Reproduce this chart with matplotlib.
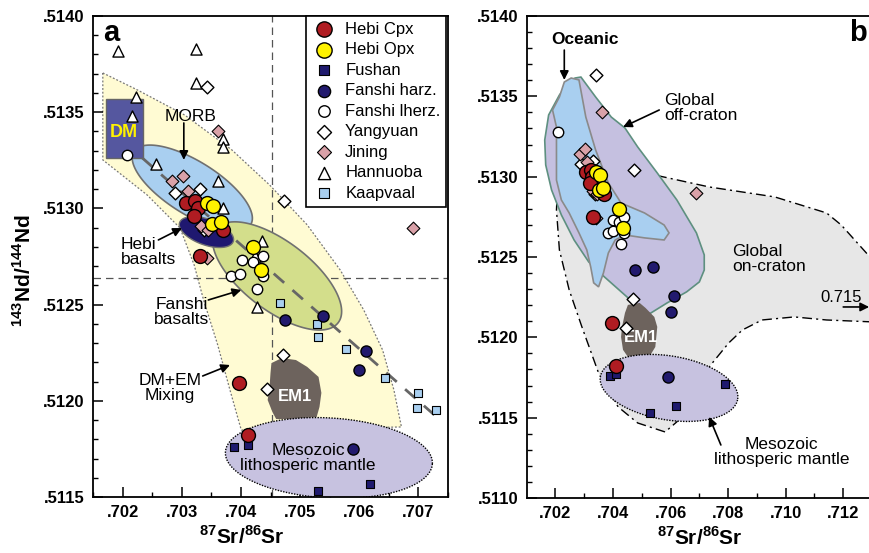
import numpy as np
import matplotlib
matplotlib.use("Agg")
import matplotlib.pyplot as plt
from matplotlib.patches import Polygon, Rectangle

plt.rcParams['font.family'] = ['Liberation Sans', 'DejaVu Sans']
plt.rcParams['mathtext.fontset'] = 'custom'
plt.rcParams['mathtext.rm'] = 'Liberation Sans'
plt.rcParams['mathtext.bf'] = 'Liberation Sans:bold'

# ---------------- sample data (87Sr/86Sr , 143Nd/144Nd) ----------------
hebi_cpx_sr = [0.70307, 0.70323, 0.70327, 0.70321, 0.70370, 0.70331, 0.70397, 0.70412]
hebi_cpx_nd = [0.51303, 0.51304, 0.51300, 0.51296, 0.51289, 0.51275, 0.51209, 0.51182]

hebi_opx_sr = [0.70342, 0.70353, 0.70351, 0.70366, 0.70420, 0.70434]
hebi_opx_nd = [0.51303, 0.51301, 0.51292, 0.51293, 0.51280, 0.51268]

fushan_sr = [0.70388, 0.70412, 0.70530, 0.70619, 0.70789]
fushan_nd = [0.51176, 0.51177, 0.51153, 0.51157, 0.51171]

harz_sr = [0.70475, 0.70539, 0.70611, 0.70600, 0.70590]
harz_nd = [0.51242, 0.51244, 0.51226, 0.51216, 0.51175]

lherz_sr = [0.70208, 0.70401, 0.70421, 0.70437, 0.70383, 0.70399, 0.70437, 0.70428]
lherz_nd = [0.51328, 0.51273, 0.51272, 0.51275, 0.51265, 0.51266, 0.51265, 0.51258]

yang_sr = [0.70342, 0.70472, 0.70289, 0.70331, 0.70337, 0.70471, 0.70444]
yang_nd = [0.51363, 0.51304, 0.51308, 0.51310, 0.51289, 0.51224, 0.51206]

jining_sr = [0.70361, 0.70284, 0.70302, 0.70310, 0.70332, 0.70345, 0.70690, 0.70342]
jining_nd = [0.51340, 0.51314, 0.51317, 0.51309, 0.51291, 0.51289, 0.51290, 0.51274]

hann_sr = [0.70192, 0.70324, 0.70324, 0.70222, 0.70216, 0.70369, 0.70370, 0.70257,
           0.70362, 0.70370, 0.70436, 0.70423, 0.70428]
hann_nd = [0.51382, 0.51383, 0.51365, 0.51358, 0.51348, 0.51336, 0.51332, 0.51323,
           0.51314, 0.51300, 0.51283, 0.51275, 0.51249]

kaap_sr = [0.70466, 0.70528, 0.70531, 0.70577, 0.70643, 0.70700, 0.70697, 0.70730]
kaap_nd = [0.51251, 0.51240, 0.51233, 0.51227, 0.51212, 0.51204, 0.51196, 0.51195]

# bulk earth reference
bse_sr = 0.70452
bse_nd = 0.51264

# ---------------- field outlines ----------------
# panel a: DM + EM mixing band
mix_sr = [0.701666, 0.702255, 0.703051, 0.703847, 0.704484, 0.705121, 0.705678, 0.706076,
          0.706395, 0.706586, 0.706713, 0.704006, 0.703815, 0.703608, 0.703369, 0.703210,
          0.702971, 0.702414, 0.701666]
mix_nd = [0.513704, 0.513615, 0.513485, 0.513304, 0.513122, 0.512914, 0.512680, 0.512472,
          0.512264, 0.512056, 0.511864, 0.511848, 0.512056, 0.512290, 0.512524, 0.512706,
          0.512898, 0.513070, 0.513252]

em1a_sr = [0.704516, 0.704691, 0.704930, 0.705121, 0.705312, 0.705360, 0.705328, 0.705280,
           0.704962, 0.704596, 0.704532, 0.704452, 0.704484, 0.704500]
em1a_nd = [0.512196, 0.512222, 0.512212, 0.512176, 0.512124, 0.512041, 0.511968, 0.511916,
           0.511905, 0.511905, 0.511942, 0.512004, 0.512072, 0.512144]

# dashed trend line
trend_sr = [0.702334, 0.707271]
trend_nd = [0.513262, 0.511926]

# panel b fields
craton_sr = [0.702068, 0.703497, 0.705435, 0.707340, 0.709619, 0.711422, 0.711932, 0.713020,
             0.713020, 0.711422, 0.710299, 0.709177, 0.708497, 0.708020, 0.707340, 0.706728,
             0.706218, 0.705810, 0.704857, 0.704177, 0.703497, 0.702918, 0.702476, 0.702136,
             0.702034]
craton_nd = [0.512930, 0.512979, 0.513011, 0.512936, 0.512874, 0.512774, 0.512699, 0.512482,
             0.512096, 0.512108, 0.512127, 0.512108, 0.512046, 0.511965, 0.511816, 0.511642,
             0.511474, 0.511411, 0.511467, 0.511567, 0.511778, 0.512065, 0.512295, 0.512544,
             0.512793]

offcr_sr = [0.702680, 0.702884, 0.703395, 0.703939, 0.704415, 0.704857, 0.705537, 0.706218,
            0.706898, 0.707170, 0.707170, 0.707000, 0.706558, 0.705878, 0.705265, 0.704721,
            0.703701, 0.703156, 0.702646, 0.702204, 0.701864, 0.701660, 0.701626, 0.701762,
            0.702136, 0.702476]
offcr_nd = [0.513614, 0.513620, 0.513496, 0.513371, 0.513303, 0.513185, 0.513023, 0.512855,
            0.512650, 0.512513, 0.512419, 0.512345, 0.512283, 0.512214, 0.512146, 0.512214,
            0.512376, 0.512469, 0.512606, 0.512762, 0.512917, 0.513073, 0.513228, 0.513384,
            0.513508, 0.513589]

ocean_sr = [0.702306, 0.702544, 0.702816, 0.703054, 0.703395, 0.703837, 0.704279, 0.705095,
            0.705776, 0.705946, 0.705776, 0.705095, 0.704415, 0.704075, 0.703837, 0.703667,
            0.703497, 0.703327, 0.703224, 0.703088, 0.702816, 0.702476, 0.702204, 0.702034,
            0.702034, 0.702034, 0.701898, 0.702136]
ocean_nd = [0.513589, 0.513614, 0.513602, 0.513371, 0.513166, 0.512961, 0.512836, 0.512774,
            0.512699, 0.512650, 0.512606, 0.512619, 0.512637, 0.512606, 0.512525, 0.512401,
            0.512314, 0.512339, 0.512438, 0.512544, 0.512650, 0.512774, 0.512855, 0.512979,
            0.513166, 0.513309, 0.513415, 0.513496]

em1b_sr = [0.704517, 0.704925, 0.705129, 0.705435, 0.705537, 0.705503, 0.705469, 0.705299,
           0.704857, 0.704517, 0.704347, 0.704279, 0.704313, 0.704415]
em1b_nd = [0.512202, 0.512214, 0.512183, 0.512127, 0.512065, 0.512002, 0.511940, 0.511890,
           0.511878, 0.511878, 0.511922, 0.512002, 0.512065, 0.512152]

W, H = 870, 553
fig = plt.figure(figsize=(W / 100, H / 100), dpi=100)
axa = fig.add_axes([93 / W, 1 - 497 / H, 355 / W, 481 / H])
axb = fig.add_axes([527 / W, 1 - 498 / H, 345 / W, 482 / H])

axa.set_xlim(0.701666, 0.707318)
axa.set_ylim(0.5115, 0.5140)
axb.set_xlim(0.70101, 0.71275)
axb.set_ylim(0.5110, 0.5140)


def px_scale(ax):
    bb = ax.get_position()
    x0, x1 = ax.get_xlim()
    y0, y1 = ax.get_ylim()
    return bb.width * W / (x1 - x0), bb.height * H / (y1 - y0)


def ellipse(ax, cx, cy, a, b, ang, **kw):
    # a, b in pixels, angle in screen degrees
    sx, sy = px_scale(ax)
    t = np.linspace(0, 2 * np.pi, 200)
    th = np.radians(ang)
    dx = a * np.cos(t) * np.cos(th) - b * np.sin(t) * np.sin(th)
    dy = a * np.cos(t) * np.sin(th) + b * np.sin(t) * np.cos(th)
    ax.add_patch(Polygon(np.column_stack([cx + dx / sx, cy + dy / sy]), closed=True, **kw))


def poly(ax, xs, ys, **kw):
    ax.add_patch(Polygon(np.column_stack([xs, ys]), closed=True, **kw))


def points(ax, kaap=True):
    if kaap:
        ax.scatter(hann_sr, hann_nd, s=8**2, marker="^", fc="white", ec="k", lw=1, zorder=5, label="Hannuoba")
        ax.scatter(kaap_sr, kaap_nd, s=6**2, marker="s", fc="#A9CFF0", ec="k", lw=0.8, zorder=5, label="Kaapvaal")
    ax.scatter(yang_sr, yang_nd, s=6.5**2, marker="D", fc="white", ec="k", lw=1, zorder=5, label="Yangyuan")
    ax.scatter(jining_sr, jining_nd, s=6.5**2, marker="D", fc="#D9A1A8", ec="k", lw=0.8, zorder=5, label="Jining")
    ax.scatter(lherz_sr, lherz_nd, s=7.5**2, marker="o", fc="white", ec="k", lw=1, zorder=6, label="Fanshi lherz.")
    ax.scatter(harz_sr, harz_nd, s=8**2, marker="o", fc="#221A6E", ec="k", lw=1, zorder=6, label="Fanshi harz.")
    ax.scatter(fushan_sr, fushan_nd, s=6**2, marker="s", fc="#1F1A6E", ec="k", lw=0.8, zorder=6, label="Fushan")
    ax.scatter(hebi_cpx_sr, hebi_cpx_nd, s=10**2, marker="o", fc="#B01C22", ec="k", lw=1, zorder=7, label="Hebi Cpx")
    ax.scatter(hebi_opx_sr, hebi_opx_nd, s=10**2, marker="o", fc="#FFF200", ec="k", lw=1, zorder=8, label="Hebi Opx")


arrow = dict(arrowstyle="-|>", color="k", lw=1.2, mutation_scale=13, shrinkA=0, shrinkB=0)

# ============================ panel a ============================
poly(axa, mix_sr, mix_nd, fc="#FFFBD3", ec="#777777", lw=0.9, ls=(0, (1.5, 1.5)), zorder=1)
axa.axvline(bse_sr, color="#555555", lw=0.9, dashes=(6, 4), zorder=1.5)
axa.axhline(bse_nd, color="#555555", lw=0.9, dashes=(6, 4), zorder=1.5)
ellipse(axa, 0.703178, 0.513106, 72, 27, -30, fc="#A9CFF0", ec="#707070", lw=1.2, zorder=2)
ellipse(axa, 0.704611, 0.512649, 80, 35, -35, fc="#D3DE8B", ec="#707070", lw=1.2, zorder=2)
ellipse(axa, 0.703417, 0.512877, 30, 13, -18, fc="#1F1870", ec="#707070", lw=1, zorder=2.2)
poly(axa, em1a_sr, em1a_nd, fc="#6D635D", ec="none", zorder=2)
ellipse(axa, 0.705487, 0.511703, 110, 40, -3, fc="#C7C2E0", ec="k", lw=1, ls=(0, (1, 1)), zorder=2.3)
axa.add_patch(Rectangle((0.701713, 0.513262), 0.000637, 0.000306, fc="#55579F", ec="#666666",
                        lw=1, zorder=2))
axa.plot(trend_sr, trend_nd, color="#666666", lw=2, dashes=(5, 4), zorder=2.5)

points(axa)

axa.text(0.702016, 0.513392, "DM", color="#FFF200", fontsize=13, fontweight="bold",
         ha="center", va="center", zorder=4)
axa.text(0.703146, 0.513480, "MORB", fontsize=12.5, ha="center", va="center", zorder=4)
axa.annotate("", xy=(0.703035, 0.513252), xytext=(0.703035, 0.513444), arrowprops=arrow, zorder=4)
axa.text(0.701968, 0.512773, "Hebi\nbasalts", fontsize=12.5, ha="left", va="center",
         linespacing=1.0, zorder=4)
axa.annotate("", xy=(0.703003, 0.512898), xytext=(0.702605, 0.512836), arrowprops=arrow, zorder=4)
axa.text(0.703003, 0.512462, "Fanshi\nbasalts", fontsize=12.5, ha="center", va="center",
         linespacing=1.0, zorder=4)
axa.annotate("", xy=(0.704006, 0.512576), xytext=(0.703449, 0.512524), arrowprops=arrow, zorder=4)
axa.text(0.702796, 0.512067, "DM+EM\nMixing", fontsize=12.5, ha="center", va="center",
         linespacing=1.0, zorder=4)
axa.annotate("", xy=(0.703815, 0.512186), xytext=(0.703354, 0.512129), arrowprops=arrow, zorder=4)
axa.text(0.704914, 0.512020, "EM1", color="white", fontsize=12, fontweight="bold",
         ha="center", va="center", zorder=4)
axa.text(0.705137, 0.511703, "Mesozoic\nlithosperic mantle", fontsize=12.5, ha="center",
         va="center", linespacing=1.0, zorder=9)
axa.text(0.028, 0.965, "a", transform=axa.transAxes, fontsize=21, fontweight="bold",
         ha="left", va="center")

order = ["Hebi Cpx", "Hebi Opx", "Fushan", "Fanshi harz.", "Fanshi lherz.", "Yangyuan",
         "Jining", "Hannuoba", "Kaapvaal"]
hs, ls_ = axa.get_legend_handles_labels()
lut = dict(zip(ls_, hs))
leg = axa.legend([lut[k] for k in order], order, loc="upper right", bbox_to_anchor=(0.995, 1.0),
                 borderaxespad=0, fontsize=12, frameon=True, fancybox=False, framealpha=1,
                 edgecolor="k", labelspacing=0.33, handletextpad=0.5, handlelength=1.5,
                 borderpad=0.35, scatterpoints=1, markerscale=1.1)
leg.get_frame().set_linewidth(1.2)
leg.set_zorder(10)

# ============================ panel b ============================
poly(axb, craton_sr, craton_nd, fc="#E7E7E7", ec="k", lw=1, ls=(0, (7, 3, 1.5, 3)), zorder=1)
poly(axb, offcr_sr, offcr_nd, fc="#C5C0E0", ec="#5E9080", lw=1.2, zorder=2)
poly(axb, ocean_sr, ocean_nd, fc="#A9CFF0", ec="#8A8A8A", lw=1.2, zorder=2.1)
poly(axb, em1b_sr, em1b_nd, fc="#6D635D", ec="none", zorder=2.2)
ellipse(axb, 0.705946, 0.511685, 71, 32, -9, fc="#C7C2E0", ec="k", lw=1, ls=(0, (1, 1)), zorder=2.3)

points(axb, kaap=False)

axb.text(0.703020, 0.513851, "Oceanic", fontsize=12.5, fontweight="bold", ha="center", va="center")
axb.annotate("", xy=(0.702306, 0.513602), xytext=(0.702306, 0.513788), arrowprops=arrow)
axb.text(0.705776, 0.513428, "Global\noff-craton", fontsize=12.5, ha="left", va="center",
         linespacing=1.0)
axb.annotate("", xy=(0.704347, 0.513309), xytext=(0.705605, 0.513415), arrowprops=arrow)
axb.text(0.708156, 0.512488, "Global\non-craton", fontsize=12.5, ha="left", va="center",
         linespacing=1.0)
axb.text(0.711218, 0.512251, "0.715", fontsize=12, ha="left", va="center")
axb.annotate("", xy=(0.71290, 0.512189), xytext=(0.71200, 0.512189), arrowprops=arrow,
             annotation_clip=False)
axb.text(0.704959, 0.511996, "EM1", color="white", fontsize=12, fontweight="bold",
         ha="center", va="center", zorder=4)
axb.text(0.709857, 0.511287, "Mesozoic\nlithosperic mantle", fontsize=12.5, ha="center",
         va="center", linespacing=1.0)
axb.annotate("", xy=(0.707340, 0.511505), xytext=(0.707748, 0.511330), arrowprops=arrow)
axb.text(0.959, 0.965, "b", transform=axb.transAxes, fontsize=21, fontweight="bold",
         ha="center", va="center")

# ============================ axes styling ============================
tick_font = ["Liberation Sans Narrow", "Liberation Sans", "DejaVu Sans"]

axa.set_xticks([0.702, 0.703, 0.704, 0.705, 0.706, 0.707],
               [".702", ".703", ".704", ".705", ".706", ".707"])
axa.set_xticks(np.arange(0.7015, 0.7075, 0.001), minor=True)
axa.set_yticks([0.5115, 0.5120, 0.5125, 0.5130, 0.5135, 0.5140],
               [".5115", ".5120", ".5125", ".5130", ".5135", ".5140"])
axa.set_yticks(np.arange(0.5115, 0.51401, 0.0001), minor=True)

axb.set_xticks([0.702, 0.704, 0.706, 0.708, 0.710, 0.712],
               [".702", ".704", ".706", ".708", ".710", ".712"])
axb.set_xticks(np.arange(0.703, 0.7135, 0.002), minor=True)
axb.set_yticks([0.5110, 0.5115, 0.5120, 0.5125, 0.5130, 0.5135, 0.5140],
               [".5110", ".5115", ".5120", ".5125", ".5130", ".5135", ".5140"])
axb.set_yticks(np.arange(0.5110, 0.51401, 0.0001), minor=True)

for ax in (axa, axb):
    ax.tick_params(which="major", direction="in", length=7, width=1.1, top=False, right=False, pad=6)
    ax.tick_params(which="minor", direction="in", length=3.5, width=1, top=False, right=False)
    ax.tick_params(axis="x", pad=6)
    for sp in ax.spines.values():
        sp.set_linewidth(1.3)
    for lbl in ax.get_xticklabels() + ax.get_yticklabels():
        lbl.set_family(tick_font)
        lbl.set_fontweight("bold")
        lbl.set_fontsize(12)
    ax.set_xlabel(r"$^{\mathbf{87}}$Sr/$^{\mathbf{86}}$Sr", fontsize=15, fontweight="bold",
                  family=tick_font)

axa.xaxis.set_label_coords(0.42, -0.058)
axb.xaxis.set_label_coords(0.50, -0.058)
axa.set_ylabel(r"$^{\mathbf{143}}$Nd/$^{\mathbf{144}}$Nd", fontsize=15, fontweight="bold",
               family=tick_font)
axa.yaxis.set_label_coords(-0.165, 0.47)

fig.savefig("out.png", dpi=100)
